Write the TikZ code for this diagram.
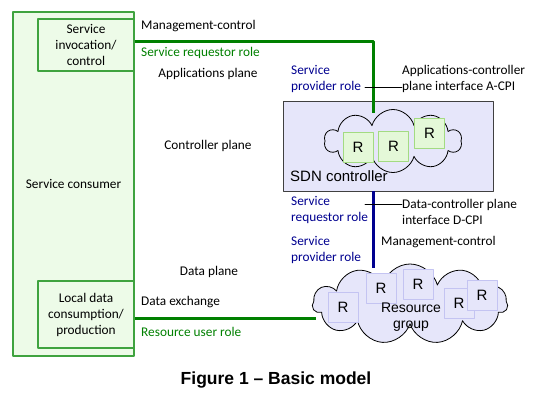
\documentclass[tikz,border=0pt]{standalone}
\usepackage{fontspec}
\setmainfont{Carlito}
\newfontfamily\capfont{Liberation Sans}
\usetikzlibrary{shapes.symbols}
\definecolor{boxgreen}{HTML}{3FA33F}
\definecolor{fillgreen}{HTML}{EDFBE8}
\definecolor{linegreen}{HTML}{008000}
\definecolor{lineblue}{HTML}{00008F}
\definecolor{lav}{HTML}{E6E6FA}
\definecolor{rgreen}{HTML}{E4F8D8}
\definecolor{rgreenb}{HTML}{A3DB82}
\definecolor{rlavb}{HTML}{C4C4F2}
\tikzset{
	lbl/.style={font=\fontsize{13.3}{16}\selectfont, inner sep=0pt, align=left},
	greenbox/.style={draw=boxgreen, line width=1.2pt, fill=fillgreen},
	rctl/.style={draw=rgreenb, line width=1pt, fill=rgreen, minimum size=30pt, inner sep=0pt, font=\capfont\fontsize{15}{15}\selectfont},
	rres/.style={draw=rlavb, line width=1pt, fill=lav, minimum size=30pt, inner sep=0pt, font=\capfont\fontsize{15}{15}\selectfont},
	puffs/.style={cloud, cloud puffs=9, cloud ignores aspect, draw=black, line width=0.8pt, fill=lav, inner sep=0pt}
}
\begin{document}
\begin{tikzpicture}[x=1pt, y=-1pt, line join = round, line cap = round]
	\useasboundingbox (0,0) rectangle (537,401);
	\node[greenbox, minimum width=121pt, minimum height=344pt, lbl] (cons) at (73.5,184) {Service consumer};
	\node[greenbox, minimum width=96pt, minimum height=52pt, lbl, align=center] (inv) at (86,45) {Service\\invocation/\\control};
	\node[greenbox, minimum width=96pt, minimum height=67pt, lbl, align=center] (local) at (86,314.5) {Local data\\consumption/\\production};
	\node[draw=black!75, line width=0.8pt, fill=lav, minimum width=210pt, minimum height=90pt] (sdn) at (388,146) {};
	\node[lbl, anchor=west, font=\capfont\fontsize{15}{18}\selectfont] (sdnlbl) at (290,176) {SDN controller};
	\node[puffs, cloud puffs=10, minimum width=137pt, minimum height=63pt] (ccloud) at (393,141) {};
	\node[rctl] (r1) at (358,147) {R};
	\node[rctl] (r2) at (393.5,146.5) {R};
	\node[rctl] (r3) at (429.5,133) {R};
	\node[puffs, cloud puffs=11, minimum width=195pt, minimum height=80pt] (rgcloud) at (410,304) {};
	\node[rres] (s1) at (343,307) {R};
	\node[rres] (s2) at (381,288) {R};
	\node[rres] (s3) at (418,284) {R};
	\node[rres] (s4) at (459,303) {R};
	\node[rres] (s5) at (482,295.5) {R};
	\node[lbl, align=center, font=\capfont\fontsize{14}{16}\selectfont] (rglbl) at (411,317) {Resource\\group};
	\coordinate (acpi) at (373,113);
	\coordinate (dtop) at (373,191);
	\coordinate (dbot) at (373,268);
	\coordinate (dx) at (316,318);
	\draw[linegreen, line width=3pt, line cap=butt] (cons.east |- 0,41.5) -| (acpi);
	\draw[linegreen, line width=3pt, line cap=butt] (cons.east |- dx) -- (dx);
	\draw[lineblue, line width=3pt, line cap=butt] (dtop) -- (dbot);
	\node[lbl, anchor=west] (mc1) at (141,26) {Management-control};
	\node[lbl, anchor=west, text=linegreen] (srr1) at (141,53) {Service requestor role};
	\node[lbl] (ap) at (208,74) {Applications plane};
	\node[lbl] (cp) at (208,146) {Controller plane};
	\node[lbl] (dp) at (209,272) {Data plane};
	\node[lbl, anchor=west] (dex) at (141,302) {Data exchange};
	\node[lbl, anchor=west, text=linegreen] (rur) at (141,332) {Resource user role};
	\node[lbl, anchor=west, text=lineblue] (spr1) at (291,79) {Service\\provider role};
	\node[lbl, anchor=west] (acpilbl) at (402,79) {Applications-controller\\plane interface A-CPI};
	\node[lbl, anchor=west, text=lineblue] (srr2) at (291,210) {Service\\requestor role};
	\node[lbl, anchor=west] (dcpilbl) at (402,212) {Data-controller plane\\interface D-CPI};
	\node[lbl, anchor=west, text=lineblue] (spr2) at (291,250) {Service\\provider role};
	\node[lbl, anchor=west] (mc2) at (381,242) {Management-control};
	\draw[line width=0.8pt] (365,87) -- (acpilbl.west |- 0,87);
	\draw[line width=0.8pt] (365,204) -- (dcpilbl.west |- 0,204);
	\node[font=\capfont\bfseries\fontsize{17.5}{20}\selectfont, inner sep=0pt] (cap) at (276,380) {Figure 1 – Basic model};
\end{tikzpicture}
\end{document}
